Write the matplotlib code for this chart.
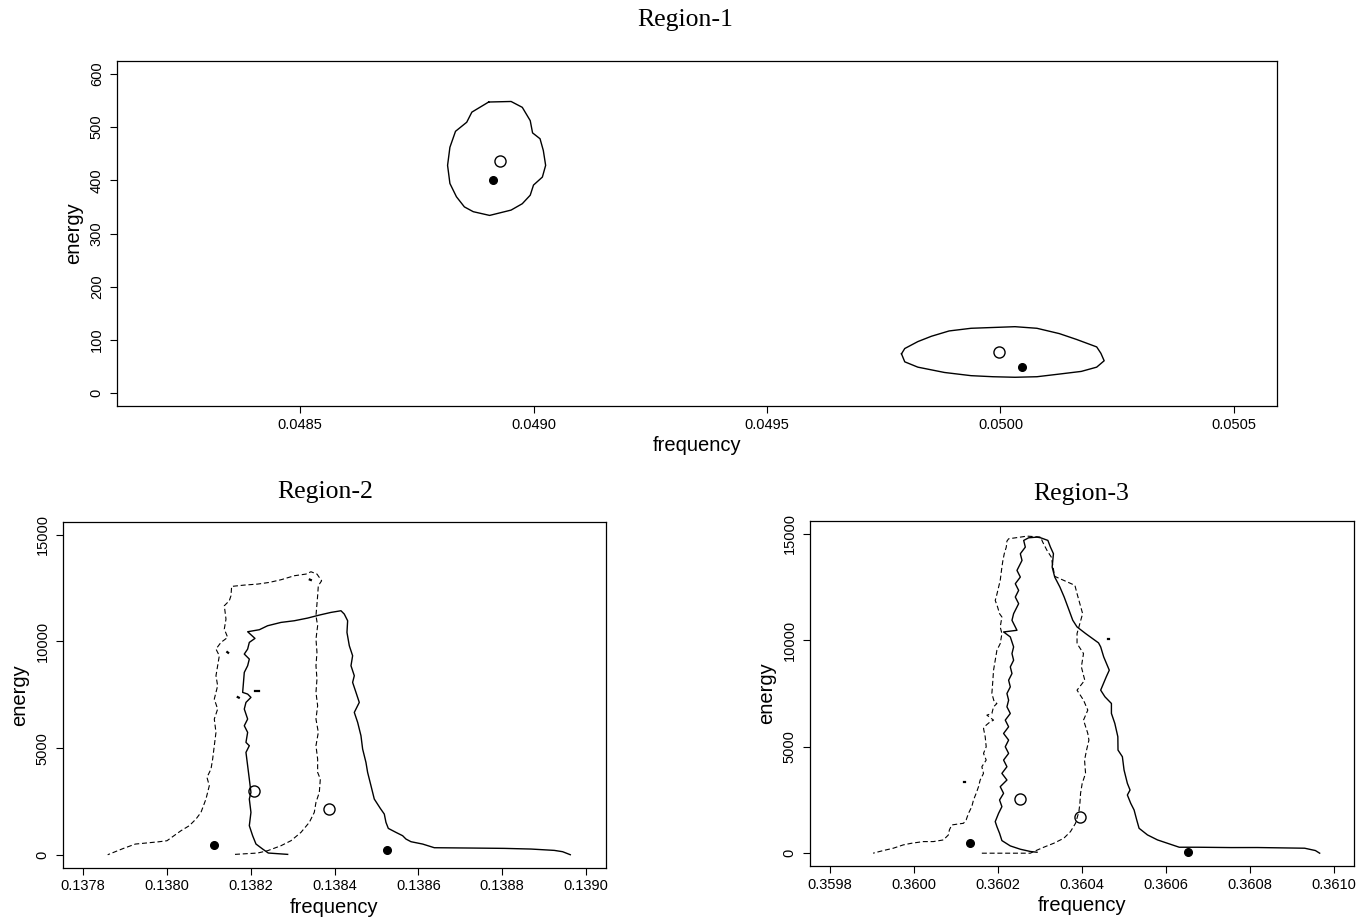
import numpy as np
import matplotlib.pyplot as plt

plt.rcParams['font.family'] = ['Liberation Sans', 'DejaVu Sans']

# ---- Region-1 ----
r1_ell1_x = [0.048904, 0.048952, 0.048976, 0.048993, 0.048998, 0.049014, 0.049021,
             0.049026, 0.049019, 0.049000, 0.048993, 0.048976, 0.048952, 0.048906,
             0.048871, 0.048852, 0.048835, 0.048821, 0.048816, 0.048821, 0.048833,
             0.048857, 0.048868, 0.048904]
r1_ell1_y = [547, 548, 537, 512, 489, 478, 456, 428, 406, 391, 372, 356, 344, 334,
             341, 350, 369, 394, 428, 462, 492, 509, 528, 547]
r1_ell2_x = [0.049788, 0.049795, 0.049823, 0.049852, 0.049890, 0.049937, 0.050031,
             0.050078, 0.050126, 0.050163, 0.050206, 0.050215, 0.050222, 0.050206,
             0.050173, 0.050126, 0.050078, 0.050031, 0.049984, 0.049937, 0.049880,
             0.049823, 0.049795, 0.049788]
r1_ell2_y = [74, 84, 97, 107, 117, 122, 125, 122, 112, 101, 87, 75, 61, 49, 41, 36,
             31, 30, 31, 33, 39, 49, 59, 74]
r1_filled_x = [0.048913, 0.050047]
r1_filled_y = [400, 49]
r1_open_x = [0.048929, 0.049997]
r1_open_y = [436, 78]

# ---- Region-2 ----
r2_solid_x = [0.1382881, 0.1382419, 0.1382284, 0.1382125, 0.1382045, 0.1381966,
              0.1382005, 0.1381966, 0.1382005, 0.1381966, 0.1381926, 0.1381886,
              0.1381966, 0.1381886, 0.1381926, 0.1381846, 0.1381926, 0.1381846,
              0.1381886, 0.1382005, 0.1381926, 0.1381807, 0.1381846, 0.1381926,
              0.1381966, 0.1381846, 0.1381926, 0.1381966, 0.1382101, 0.1381926,
              0.1382205, 0.1382403, 0.1382722, 0.1383040, 0.1383358, 0.1383637,
              0.1383915, 0.1384154, 0.1384233, 0.1384313, 0.1384297, 0.1384353,
              0.1384432, 0.1384393, 0.1384472, 0.1384432, 0.1384512, 0.1384591,
              0.1384472, 0.1384552, 0.1384631, 0.1384671, 0.1384750, 0.1384790,
              0.1384870, 0.1384949, 0.1385093, 0.1385188, 0.1385228, 0.1385284,
              0.1385467, 0.1385626, 0.1385705, 0.1385825, 0.1386103, 0.1386382,
              0.1387257, 0.1388053, 0.1388689, 0.1389246, 0.1389445, 0.1389628]
r2_solid_y = [17, 80, 267, 502, 892, 1361, 1986, 2611, 2923, 3548, 4173, 4798,
              5111, 5267, 5736, 6048, 6361, 6830, 7142, 7377, 7533, 7611, 8548,
              8861, 9173, 9408, 9642, 9955, 10142, 10455, 10549, 10736, 10892,
              10970, 11095, 11236, 11361, 11439, 11283, 10970, 10423, 9798, 9330,
              8861, 8392, 8080, 7611, 7142, 6673, 6205, 5580, 4955, 4330, 3861,
              3236, 2611, 2173, 1907, 1517, 1235, 1048, 892, 736, 611, 501, 329,
              314, 298, 267, 204, 142, 1]
r2_dash_x = [0.1381624, 0.1382165, 0.1382403, 0.1382722, 0.1382961, 0.1383199,
             0.1383398, 0.1383517, 0.1383557, 0.1383637, 0.1383661, 0.1383597,
             0.1383597, 0.1383557, 0.1383613, 0.1383557, 0.1383597, 0.1383557,
             0.1383581, 0.1383557, 0.1383581, 0.1383557, 0.1383597, 0.1383557,
             0.1383597, 0.1383613, 0.1383692, 0.1383581, 0.1383438, 0.1383318,
             0.1383040, 0.1382722, 0.1382443, 0.1382165, 0.1381846, 0.1381544,
             0.1381528, 0.1381488, 0.1381369, 0.1381409, 0.1381369, 0.1381449,
             0.1381289, 0.1381170, 0.1381250, 0.1381210, 0.1381170, 0.1381210,
             0.1381130, 0.1381210, 0.1381130, 0.1381170, 0.1381130, 0.1381091,
             0.1381051, 0.1380955, 0.1381011, 0.1380931, 0.1380812, 0.1380693,
             0.1380533, 0.1380335, 0.1380000, 0.1379811, 0.1379245, 0.1378962,
             0.1378585]
r2_dash_y = [17, 80, 189, 423, 658, 1048, 1517, 1986, 2455, 2923, 3548, 3861,
             4486, 5111, 5736, 6361, 6986, 7611, 8236, 8861, 9486, 10111, 10736,
             11205, 12142, 12611, 12845, 13158, 13267, 13158, 13080, 12892, 12767,
             12689, 12642, 12580, 12142, 11908, 11673, 11048, 10580, 10189, 9955,
             9642, 9330, 8861, 8392, 7923, 7298, 6830, 6361, 5736, 5111, 4486,
             4017, 3627, 3236, 2611, 1986, 1673, 1361, 1127, 656, 609, 500, 297, 0]
r2_bits_solid_x = [[0.1381690, 0.1381715], [0.1382110, 0.1382190]]
r2_bits_solid_y = [[7390, 7365], [7658, 7658]]
r2_bits_dash_x = [[0.1381440, 0.1381460], [0.1383410, 0.1383435]]
r2_bits_dash_y = [[9500, 9470], [12900, 12880]]
r2_filled_x = [0.138113, 0.138526]
r2_filled_y = [453, 234]
r2_open_x = [0.138207, 0.138386]
r2_open_y = [3000, 2140]

# ---- Region-3 ----
r3_solid_x = [0.3602929, 0.3602770, 0.3602531, 0.3602292, 0.3602092, 0.3602036,
              0.3601973, 0.3601933, 0.3602013, 0.3602092, 0.3602036, 0.3602132,
              0.3602052, 0.3602212, 0.3602092, 0.3602212, 0.3602132, 0.3602252,
              0.3602172, 0.3602252, 0.3602132, 0.3602252, 0.3602172, 0.3602292,
              0.3602212, 0.3602252, 0.3602212, 0.3602292, 0.3602252, 0.3602332,
              0.3602292, 0.3602371, 0.3602332, 0.3602371, 0.3602292, 0.3602132,
              0.3602451, 0.3602332, 0.3602371, 0.3602491, 0.3602411, 0.3602491,
              0.3602411, 0.3602531, 0.3602451, 0.3602571, 0.3602531, 0.3602650,
              0.3602611, 0.3602730, 0.3602929, 0.3603013, 0.3603187, 0.3603248,
              0.3603320, 0.3603289, 0.3603350, 0.3603473, 0.3603575, 0.3603678,
              0.3603780, 0.3603882, 0.3604087, 0.3604394, 0.3604445, 0.3604517,
              0.3604650, 0.3604578, 0.3604445, 0.3604547, 0.3604701, 0.3604701,
              0.3604782, 0.3604854, 0.3604858, 0.3604962, 0.3605002, 0.3605081,
              0.3605145, 0.3605081, 0.3605161, 0.3605241, 0.3605304, 0.3605360,
              0.3605560, 0.3605799, 0.3606317, 0.3606755, 0.3607552, 0.3608179,
              0.3609304, 0.3609560, 0.3609662]
r3_solid_y = [45, 80, 186, 342, 592, 935, 1248, 1482, 1873, 2186, 2498, 2811,
              3123, 3436, 3748, 4061, 4373, 4686, 4998, 5311, 5623, 5936, 6248,
              6561, 6873, 7186, 7498, 7811, 8123, 8436, 8748, 9061, 9373, 9686,
              10155, 10389, 10467, 10936, 11248, 11717, 12029, 12342, 12654, 12967,
              13279, 13748, 14061, 14373, 14686, 14811, 14842, 14812, 14688, 14375,
              14063, 13438, 12969, 12500, 12031, 11484, 10938, 10625, 10313, 9875,
              9688, 9219, 8594, 8281, 7656, 7344, 7031, 6563, 6094, 5469, 4842,
              4530, 3905, 3280, 2967, 2733, 2342, 2030, 1561, 1170, 858, 623, 280,
              280, 264, 266, 234, 125, 0]
r3_dash_x = [0.3601614, 0.3602770, 0.3602850, 0.3603089, 0.3603328, 0.3603567,
             0.3603726, 0.3603846, 0.3603926, 0.3603950, 0.3603966, 0.3604005,
             0.3604085, 0.3604061, 0.3604109, 0.3604165, 0.3604138, 0.3604036,
             0.3604138, 0.3604036, 0.3603882, 0.3604066, 0.3603985, 0.3604036,
             0.3603882, 0.3603882, 0.3604015, 0.3603882, 0.3603831, 0.3603350,
             0.3603268, 0.3603166, 0.3603064, 0.3603013, 0.3602690, 0.3602531,
             0.3602252, 0.3602212, 0.3602196, 0.3602148, 0.3602116, 0.3602092,
             0.3602052, 0.3601957, 0.3601933, 0.3601989, 0.3602036, 0.3602092,
             0.3602052, 0.3602092, 0.3602052, 0.3601973, 0.3601933, 0.3601893,
             0.3601877, 0.3601853, 0.3601909, 0.3601973, 0.3601893, 0.3601853,
             0.3601734, 0.3601893, 0.3601813, 0.3601718, 0.3601654, 0.3601694,
             0.3601718, 0.3601654, 0.3601718, 0.3601614, 0.3601654, 0.3601574,
             0.3601535, 0.3601479, 0.3601415, 0.3601375, 0.3601296, 0.3601240,
             0.3601176, 0.3601057, 0.3600897, 0.3600841, 0.3600817, 0.3600698,
             0.3600458, 0.3600219, 0.3599940, 0.3599741, 0.3599502, 0.3599263,
             0.3599024]
r3_dash_y = [0, 0, 77, 280, 467, 702, 1014, 1405, 1952, 2342, 2811, 3280, 3748,
             4373, 4842, 5311, 5625, 6250, 6719, 7188, 7656, 8125, 8750, 9375,
             9844, 10313, 11250, 12188, 12578, 13000, 13906, 14219, 14609, 14844,
             14889, 14842, 14764, 14654, 14373, 14061, 13748, 13436, 12811, 12029,
             11873, 11561, 11248, 11092, 10623, 10311, 9842, 9529, 9061, 8592,
             8123, 7498, 7107, 7029, 6873, 6561, 6483, 6248, 6170, 6014, 5858,
             5467, 4998, 4686, 4373, 4061, 3748, 3436, 3123, 2811, 2498, 2186,
             1873, 1561, 1404, 1373, 1326, 1092, 857, 623, 545, 545, 467, 389,
             232, 123, 0]
r3_bits_solid_x = [[0.3601190, 0.3601215], [0.3604610, 0.3604635]]
r3_bits_solid_y = [[3358, 3358], [10078, 10078]]
r3_filled_x = [0.3601335, 0.3606522]
r3_filled_y = [469, 40]
r3_open_x = [0.3602532, 0.3603954]
r3_open_y = [2531, 1719]

fig = plt.figure(figsize=(13.71, 9.19), dpi=100)
ax1 = fig.add_axes([0.0853, 0.5582, 0.8461, 0.3754])
ax2 = fig.add_axes([0.0460, 0.0560, 0.3960, 0.3760])
ax3 = fig.add_axes([0.5908, 0.0577, 0.3968, 0.3754])

LW = 1.0
DASH = (4.5, 2.5)


def points(ax, fx, fy, ox, oy):
    ax.plot(fx, fy, 'o', color='black', ms=5.5, ls='none')
    ax.plot(ox, oy, 'o', mfc='none', mec='black', mew=1.0, ms=8, ls='none')


def style(ax, xticks, xlabels, yticks, ylabels):
    ax.set_xticks(xticks)
    ax.set_xticklabels(xlabels)
    ax.set_yticks(yticks)
    ax.set_yticklabels(ylabels, rotation=90, va='center')
    ax.tick_params(length=5, width=0.8, labelsize=10.5, pad=3.5)
    ax.tick_params(axis='y', pad=4.5)
    for s in ax.spines.values():
        s.set_linewidth(0.9)
    ax.set_xlabel('frequency', fontsize=14.5, labelpad=3)
    ax.set_ylabel('energy', fontsize=14.5, labelpad=5)


# Region-1
ax1.plot(r1_ell1_x, r1_ell1_y, color='black', lw=LW)
ax1.plot(r1_ell2_x, r1_ell2_y, color='black', lw=LW)
points(ax1, r1_filled_x, r1_filled_y, r1_open_x, r1_open_y)
ax1.set_xlim(0.048108, 0.050592)
ax1.set_ylim(-24, 624)
style(ax1, [0.0485, 0.0490, 0.0495, 0.0500, 0.0505],
      ['0.0485', '0.0490', '0.0495', '0.0500', '0.0505'],
      [0, 100, 200, 300, 400, 500, 600],
      ['0', '100', '200', '300', '400', '500', '600'])

# Region-2
ax2.plot(r2_solid_x, r2_solid_y, color='black', lw=LW)
ax2.plot(r2_dash_x, r2_dash_y, color='black', lw=0.8, dashes=DASH)
for bx, by in zip(r2_bits_solid_x, r2_bits_solid_y):
    ax2.plot(bx, by, color='black', lw=1.6)
for bx, by in zip(r2_bits_dash_x, r2_bits_dash_y):
    ax2.plot(bx, by, color='black', lw=1.6)
points(ax2, r2_filled_x, r2_filled_y, r2_open_x, r2_open_y)
ax2.set_xlim(0.137752, 0.139048)
ax2.set_ylim(-600, 15600)
style(ax2, [0.1378, 0.1380, 0.1382, 0.1384, 0.1386, 0.1388, 0.1390],
      ['0.1378', '0.1380', '0.1382', '0.1384', '0.1386', '0.1388', '0.1390'],
      [0, 5000, 10000, 15000], ['0', '5000', '10000', '15000'])

# Region-3
ax3.plot(r3_solid_x, r3_solid_y, color='black', lw=LW)
ax3.plot(r3_dash_x, r3_dash_y, color='black', lw=0.8, dashes=DASH)
for bx, by in zip(r3_bits_solid_x, r3_bits_solid_y):
    ax3.plot(bx, by, color='black', lw=1.6)
points(ax3, r3_filled_x, r3_filled_y, r3_open_x, r3_open_y)
ax3.set_xlim(0.359752, 0.361048)
ax3.set_ylim(-600, 15600)
style(ax3, [0.3598, 0.3600, 0.3602, 0.3604, 0.3606, 0.3608, 0.3610],
      ['0.3598', '0.3600', '0.3602', '0.3604', '0.3606', '0.3608', '0.3610'],
      [0, 5000, 10000, 15000], ['0', '5000', '10000', '15000'])

# titles
tfont = dict(family='Liberation Serif', fontsize=18.5, ha='center', va='center')
fig.text(685 / 1371, 1 - 20 / 919, 'Region-1', **tfont)
fig.text(325 / 1371, 1 - 492 / 919, 'Region-2', **tfont)
fig.text(1081 / 1371, 1 - 494 / 919, 'Region-3', **tfont)

fig.savefig('out.png', dpi=100)
